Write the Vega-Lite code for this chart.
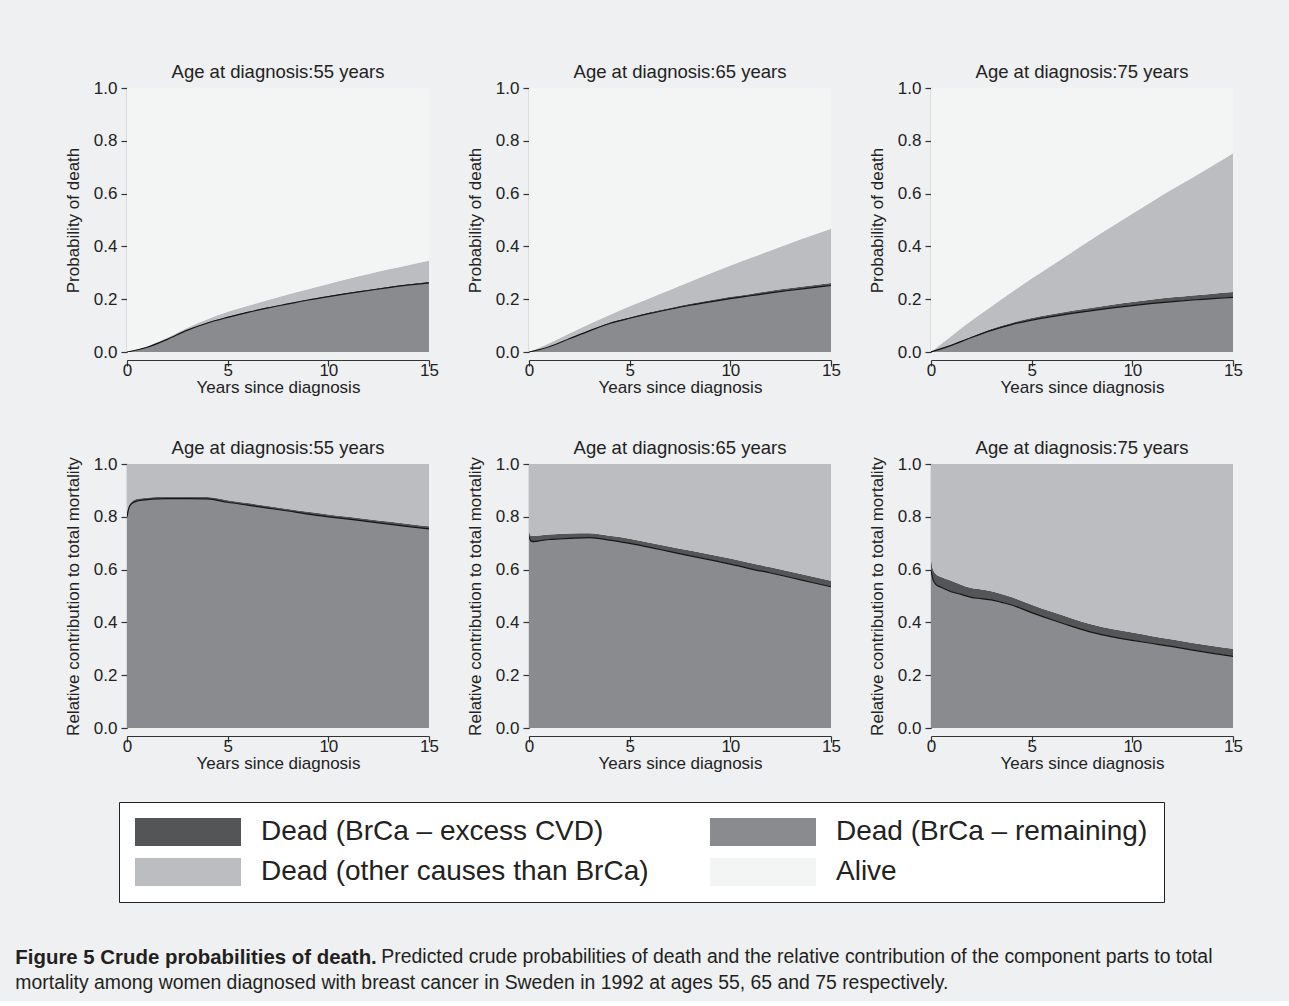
{
  "$schema": "https://vega.github.io/schema/vega-lite/v6.json",
  "background": "#eef0f1",
  "padding": {"left": 15, "top": 62, "right": 46, "bottom": 8},
  "datasets": {
    "curves": [
      {"m": "p", "age": "Age at diagnosis:55 years", "t": 0, "brca": 0, "cvd": 0, "other": 0, "survivors": 1},
      {"m": "p", "age": "Age at diagnosis:55 years", "t": 1, "brca": 0.018, "cvd": 0.001, "other": 0.002, "survivors": 0.979},
      {"m": "p", "age": "Age at diagnosis:55 years", "t": 2, "brca": 0.048, "cvd": 0.002, "other": 0.004, "survivors": 0.946},
      {"m": "p", "age": "Age at diagnosis:55 years", "t": 3, "brca": 0.083, "cvd": 0.002, "other": 0.007, "survivors": 0.908},
      {"m": "p", "age": "Age at diagnosis:55 years", "t": 4, "brca": 0.110, "cvd": 0.003, "other": 0.011, "survivors": 0.876},
      {"m": "p", "age": "Age at diagnosis:55 years", "t": 5, "brca": 0.131, "cvd": 0.003, "other": 0.018, "survivors": 0.848},
      {"m": "p", "age": "Age at diagnosis:55 years", "t": 6, "brca": 0.150, "cvd": 0.003, "other": 0.022, "survivors": 0.825},
      {"m": "p", "age": "Age at diagnosis:55 years", "t": 7, "brca": 0.167, "cvd": 0.003, "other": 0.027, "survivors": 0.803},
      {"m": "p", "age": "Age at diagnosis:55 years", "t": 8, "brca": 0.182, "cvd": 0.003, "other": 0.033, "survivors": 0.782},
      {"m": "p", "age": "Age at diagnosis:55 years", "t": 9, "brca": 0.197, "cvd": 0.003, "other": 0.038, "survivors": 0.762},
      {"m": "p", "age": "Age at diagnosis:55 years", "t": 10, "brca": 0.210, "cvd": 0.003, "other": 0.045, "survivors": 0.742},
      {"m": "p", "age": "Age at diagnosis:55 years", "t": 11, "brca": 0.222, "cvd": 0.003, "other": 0.052, "survivors": 0.723},
      {"m": "p", "age": "Age at diagnosis:55 years", "t": 12, "brca": 0.233, "cvd": 0.004, "other": 0.058, "survivors": 0.705},
      {"m": "p", "age": "Age at diagnosis:55 years", "t": 13, "brca": 0.244, "cvd": 0.004, "other": 0.065, "survivors": 0.687},
      {"m": "p", "age": "Age at diagnosis:55 years", "t": 14, "brca": 0.254, "cvd": 0.004, "other": 0.072, "survivors": 0.670},
      {"m": "p", "age": "Age at diagnosis:55 years", "t": 15, "brca": 0.262, "cvd": 0.004, "other": 0.080, "survivors": 0.654},

      {"m": "p", "age": "Age at diagnosis:65 years", "t": 0, "brca": 0, "cvd": 0, "other": 0, "survivors": 1},
      {"m": "p", "age": "Age at diagnosis:65 years", "t": 1, "brca": 0.020, "cvd": 0.001, "other": 0.012, "survivors": 0.967},
      {"m": "p", "age": "Age at diagnosis:65 years", "t": 2, "brca": 0.050, "cvd": 0.002, "other": 0.018, "survivors": 0.930},
      {"m": "p", "age": "Age at diagnosis:65 years", "t": 3, "brca": 0.080, "cvd": 0.003, "other": 0.023, "survivors": 0.894},
      {"m": "p", "age": "Age at diagnosis:65 years", "t": 4, "brca": 0.108, "cvd": 0.004, "other": 0.028, "survivors": 0.860},
      {"m": "p", "age": "Age at diagnosis:65 years", "t": 5, "brca": 0.128, "cvd": 0.004, "other": 0.041, "survivors": 0.827},
      {"m": "p", "age": "Age at diagnosis:65 years", "t": 6, "brca": 0.146, "cvd": 0.005, "other": 0.053, "survivors": 0.796},
      {"m": "p", "age": "Age at diagnosis:65 years", "t": 7, "brca": 0.162, "cvd": 0.005, "other": 0.068, "survivors": 0.765},
      {"m": "p", "age": "Age at diagnosis:65 years", "t": 8, "brca": 0.177, "cvd": 0.006, "other": 0.083, "survivors": 0.734},
      {"m": "p", "age": "Age at diagnosis:65 years", "t": 9, "brca": 0.190, "cvd": 0.006, "other": 0.101, "survivors": 0.703},
      {"m": "p", "age": "Age at diagnosis:65 years", "t": 10, "brca": 0.202, "cvd": 0.007, "other": 0.119, "survivors": 0.672},
      {"m": "p", "age": "Age at diagnosis:65 years", "t": 11, "brca": 0.213, "cvd": 0.007, "other": 0.136, "survivors": 0.644},
      {"m": "p", "age": "Age at diagnosis:65 years", "t": 12, "brca": 0.224, "cvd": 0.008, "other": 0.152, "survivors": 0.616},
      {"m": "p", "age": "Age at diagnosis:65 years", "t": 13, "brca": 0.234, "cvd": 0.008, "other": 0.171, "survivors": 0.587},
      {"m": "p", "age": "Age at diagnosis:65 years", "t": 14, "brca": 0.243, "cvd": 0.009, "other": 0.188, "survivors": 0.560},
      {"m": "p", "age": "Age at diagnosis:65 years", "t": 15, "brca": 0.252, "cvd": 0.009, "other": 0.206, "survivors": 0.533},

      {"m": "p", "age": "Age at diagnosis:75 years", "t": 0, "brca": 0, "cvd": 0, "other": 0, "survivors": 1},
      {"m": "p", "age": "Age at diagnosis:75 years", "t": 1, "brca": 0.025, "cvd": 0.002, "other": 0.033, "survivors": 0.940},
      {"m": "p", "age": "Age at diagnosis:75 years", "t": 2, "brca": 0.055, "cvd": 0.003, "other": 0.060, "survivors": 0.882},
      {"m": "p", "age": "Age at diagnosis:75 years", "t": 3, "brca": 0.082, "cvd": 0.005, "other": 0.085, "survivors": 0.828},
      {"m": "p", "age": "Age at diagnosis:75 years", "t": 4, "brca": 0.104, "cvd": 0.006, "other": 0.116, "survivors": 0.774},
      {"m": "p", "age": "Age at diagnosis:75 years", "t": 5, "brca": 0.121, "cvd": 0.008, "other": 0.149, "survivors": 0.722},
      {"m": "p", "age": "Age at diagnosis:75 years", "t": 6, "brca": 0.134, "cvd": 0.009, "other": 0.185, "survivors": 0.672},
      {"m": "p", "age": "Age at diagnosis:75 years", "t": 7, "brca": 0.146, "cvd": 0.010, "other": 0.222, "survivors": 0.622},
      {"m": "p", "age": "Age at diagnosis:75 years", "t": 8, "brca": 0.157, "cvd": 0.011, "other": 0.260, "survivors": 0.572},
      {"m": "p", "age": "Age at diagnosis:75 years", "t": 9, "brca": 0.167, "cvd": 0.012, "other": 0.297, "survivors": 0.524},
      {"m": "p", "age": "Age at diagnosis:75 years", "t": 10, "brca": 0.176, "cvd": 0.013, "other": 0.335, "survivors": 0.476},
      {"m": "p", "age": "Age at diagnosis:75 years", "t": 11, "brca": 0.184, "cvd": 0.015, "other": 0.372, "survivors": 0.429},
      {"m": "p", "age": "Age at diagnosis:75 years", "t": 12, "brca": 0.191, "cvd": 0.016, "other": 0.410, "survivors": 0.383},
      {"m": "p", "age": "Age at diagnosis:75 years", "t": 13, "brca": 0.197, "cvd": 0.017, "other": 0.447, "survivors": 0.339},
      {"m": "p", "age": "Age at diagnosis:75 years", "t": 14, "brca": 0.202, "cvd": 0.019, "other": 0.485, "survivors": 0.294},
      {"m": "p", "age": "Age at diagnosis:75 years", "t": 15, "brca": 0.207, "cvd": 0.020, "other": 0.526, "survivors": 0.247},

      {"m": "r", "age": "Age at diagnosis:55 years", "t": 0, "brca": 0.800, "cvd": 0.006, "other": 0.194, "survivors": 0},
      {"m": "r", "age": "Age at diagnosis:55 years", "t": 0.1, "brca": 0.835, "cvd": 0.007, "other": 0.158, "survivors": 0},
      {"m": "r", "age": "Age at diagnosis:55 years", "t": 0.25, "brca": 0.851, "cvd": 0.007, "other": 0.142, "survivors": 0},
      {"m": "r", "age": "Age at diagnosis:55 years", "t": 0.5, "brca": 0.860, "cvd": 0.007, "other": 0.133, "survivors": 0},
      {"m": "r", "age": "Age at diagnosis:55 years", "t": 1, "brca": 0.865, "cvd": 0.007, "other": 0.128, "survivors": 0},
      {"m": "r", "age": "Age at diagnosis:55 years", "t": 1.5, "brca": 0.868, "cvd": 0.007, "other": 0.125, "survivors": 0},
      {"m": "r", "age": "Age at diagnosis:55 years", "t": 2, "brca": 0.869, "cvd": 0.007, "other": 0.124, "survivors": 0},
      {"m": "r", "age": "Age at diagnosis:55 years", "t": 3, "brca": 0.869, "cvd": 0.007, "other": 0.124, "survivors": 0},
      {"m": "r", "age": "Age at diagnosis:55 years", "t": 4, "brca": 0.868, "cvd": 0.007, "other": 0.125, "survivors": 0},
      {"m": "r", "age": "Age at diagnosis:55 years", "t": 5, "brca": 0.855, "cvd": 0.008, "other": 0.137, "survivors": 0},
      {"m": "r", "age": "Age at diagnosis:55 years", "t": 6, "brca": 0.844, "cvd": 0.008, "other": 0.148, "survivors": 0},
      {"m": "r", "age": "Age at diagnosis:55 years", "t": 7, "brca": 0.833, "cvd": 0.008, "other": 0.159, "survivors": 0},
      {"m": "r", "age": "Age at diagnosis:55 years", "t": 8, "brca": 0.822, "cvd": 0.008, "other": 0.170, "survivors": 0},
      {"m": "r", "age": "Age at diagnosis:55 years", "t": 9, "brca": 0.810, "cvd": 0.009, "other": 0.181, "survivors": 0},
      {"m": "r", "age": "Age at diagnosis:55 years", "t": 10, "brca": 0.800, "cvd": 0.009, "other": 0.191, "survivors": 0},
      {"m": "r", "age": "Age at diagnosis:55 years", "t": 11, "brca": 0.791, "cvd": 0.009, "other": 0.200, "survivors": 0},
      {"m": "r", "age": "Age at diagnosis:55 years", "t": 12, "brca": 0.782, "cvd": 0.009, "other": 0.209, "survivors": 0},
      {"m": "r", "age": "Age at diagnosis:55 years", "t": 13, "brca": 0.772, "cvd": 0.010, "other": 0.218, "survivors": 0},
      {"m": "r", "age": "Age at diagnosis:55 years", "t": 14, "brca": 0.763, "cvd": 0.010, "other": 0.227, "survivors": 0},
      {"m": "r", "age": "Age at diagnosis:55 years", "t": 15, "brca": 0.754, "cvd": 0.010, "other": 0.236, "survivors": 0},

      {"m": "r", "age": "Age at diagnosis:65 years", "t": 0, "brca": 0.725, "cvd": 0.015, "other": 0.260, "survivors": 0},
      {"m": "r", "age": "Age at diagnosis:65 years", "t": 0.1, "brca": 0.708, "cvd": 0.020, "other": 0.272, "survivors": 0},
      {"m": "r", "age": "Age at diagnosis:65 years", "t": 0.25, "brca": 0.706, "cvd": 0.021, "other": 0.273, "survivors": 0},
      {"m": "r", "age": "Age at diagnosis:65 years", "t": 0.5, "brca": 0.709, "cvd": 0.020, "other": 0.271, "survivors": 0},
      {"m": "r", "age": "Age at diagnosis:65 years", "t": 1, "brca": 0.714, "cvd": 0.019, "other": 0.267, "survivors": 0},
      {"m": "r", "age": "Age at diagnosis:65 years", "t": 1.5, "brca": 0.716, "cvd": 0.019, "other": 0.265, "survivors": 0},
      {"m": "r", "age": "Age at diagnosis:65 years", "t": 2, "brca": 0.718, "cvd": 0.019, "other": 0.263, "survivors": 0},
      {"m": "r", "age": "Age at diagnosis:65 years", "t": 3, "brca": 0.721, "cvd": 0.017, "other": 0.262, "survivors": 0},
      {"m": "r", "age": "Age at diagnosis:65 years", "t": 4, "brca": 0.712, "cvd": 0.016, "other": 0.272, "survivors": 0},
      {"m": "r", "age": "Age at diagnosis:65 years", "t": 5, "brca": 0.699, "cvd": 0.018, "other": 0.283, "survivors": 0},
      {"m": "r", "age": "Age at diagnosis:65 years", "t": 6, "brca": 0.684, "cvd": 0.018, "other": 0.298, "survivors": 0},
      {"m": "r", "age": "Age at diagnosis:65 years", "t": 7, "brca": 0.668, "cvd": 0.019, "other": 0.313, "survivors": 0},
      {"m": "r", "age": "Age at diagnosis:65 years", "t": 8, "brca": 0.652, "cvd": 0.020, "other": 0.328, "survivors": 0},
      {"m": "r", "age": "Age at diagnosis:65 years", "t": 9, "brca": 0.637, "cvd": 0.020, "other": 0.343, "survivors": 0},
      {"m": "r", "age": "Age at diagnosis:65 years", "t": 10, "brca": 0.621, "cvd": 0.021, "other": 0.358, "survivors": 0},
      {"m": "r", "age": "Age at diagnosis:65 years", "t": 11, "brca": 0.603, "cvd": 0.022, "other": 0.375, "survivors": 0},
      {"m": "r", "age": "Age at diagnosis:65 years", "t": 12, "brca": 0.587, "cvd": 0.022, "other": 0.391, "survivors": 0},
      {"m": "r", "age": "Age at diagnosis:65 years", "t": 13, "brca": 0.570, "cvd": 0.022, "other": 0.408, "survivors": 0},
      {"m": "r", "age": "Age at diagnosis:65 years", "t": 14, "brca": 0.552, "cvd": 0.023, "other": 0.425, "survivors": 0},
      {"m": "r", "age": "Age at diagnosis:65 years", "t": 15, "brca": 0.535, "cvd": 0.023, "other": 0.442, "survivors": 0},

      {"m": "r", "age": "Age at diagnosis:75 years", "t": 0, "brca": 0.598, "cvd": 0.032, "other": 0.370, "survivors": 0},
      {"m": "r", "age": "Age at diagnosis:75 years", "t": 0.1, "brca": 0.562, "cvd": 0.038, "other": 0.400, "survivors": 0},
      {"m": "r", "age": "Age at diagnosis:75 years", "t": 0.25, "brca": 0.543, "cvd": 0.039, "other": 0.418, "survivors": 0},
      {"m": "r", "age": "Age at diagnosis:75 years", "t": 0.5, "brca": 0.533, "cvd": 0.039, "other": 0.428, "survivors": 0},
      {"m": "r", "age": "Age at diagnosis:75 years", "t": 1, "brca": 0.516, "cvd": 0.042, "other": 0.442, "survivors": 0},
      {"m": "r", "age": "Age at diagnosis:75 years", "t": 1.5, "brca": 0.506, "cvd": 0.037, "other": 0.457, "survivors": 0},
      {"m": "r", "age": "Age at diagnosis:75 years", "t": 2, "brca": 0.495, "cvd": 0.035, "other": 0.470, "survivors": 0},
      {"m": "r", "age": "Age at diagnosis:75 years", "t": 2.5, "brca": 0.490, "cvd": 0.035, "other": 0.475, "survivors": 0},
      {"m": "r", "age": "Age at diagnosis:75 years", "t": 3, "brca": 0.485, "cvd": 0.033, "other": 0.482, "survivors": 0},
      {"m": "r", "age": "Age at diagnosis:75 years", "t": 3.5, "brca": 0.476, "cvd": 0.032, "other": 0.492, "survivors": 0},
      {"m": "r", "age": "Age at diagnosis:75 years", "t": 4, "brca": 0.466, "cvd": 0.030, "other": 0.504, "survivors": 0},
      {"m": "r", "age": "Age at diagnosis:75 years", "t": 5, "brca": 0.437, "cvd": 0.030, "other": 0.533, "survivors": 0},
      {"m": "r", "age": "Age at diagnosis:75 years", "t": 6, "brca": 0.410, "cvd": 0.030, "other": 0.560, "survivors": 0},
      {"m": "r", "age": "Age at diagnosis:75 years", "t": 7, "brca": 0.385, "cvd": 0.030, "other": 0.585, "survivors": 0},
      {"m": "r", "age": "Age at diagnosis:75 years", "t": 8, "brca": 0.362, "cvd": 0.030, "other": 0.608, "survivors": 0},
      {"m": "r", "age": "Age at diagnosis:75 years", "t": 9, "brca": 0.345, "cvd": 0.030, "other": 0.625, "survivors": 0},
      {"m": "r", "age": "Age at diagnosis:75 years", "t": 10, "brca": 0.332, "cvd": 0.030, "other": 0.638, "survivors": 0},
      {"m": "r", "age": "Age at diagnosis:75 years", "t": 11, "brca": 0.320, "cvd": 0.028, "other": 0.652, "survivors": 0},
      {"m": "r", "age": "Age at diagnosis:75 years", "t": 12, "brca": 0.308, "cvd": 0.027, "other": 0.665, "survivors": 0},
      {"m": "r", "age": "Age at diagnosis:75 years", "t": 13, "brca": 0.295, "cvd": 0.027, "other": 0.678, "survivors": 0},
      {"m": "r", "age": "Age at diagnosis:75 years", "t": 14, "brca": 0.283, "cvd": 0.028, "other": 0.689, "survivors": 0},
      {"m": "r", "age": "Age at diagnosis:75 years", "t": 15, "brca": 0.271, "cvd": 0.029, "other": 0.700, "survivors": 0}
    ]
  },
  "title": {
    "text": "mortality among women diagnosed with breast cancer in Sweden in 1992 at ages 55, 65 and 75 respectively.",
    "orient": "bottom", "anchor": "start", "frame": "bounds", "offset": 6,
    "fontSize": 19.4, "fontWeight": "normal", "font": "Liberation Sans", "color": "#231f20"
  },
  "vconcat": [
    {
      "title": {
        "text": "Predicted crude probabilities of death and the relative contribution of the component parts to total",
        "orient": "bottom", "anchor": "start", "frame": "bounds", "offset": -20, "dx": 366,
        "fontSize": 19.4, "fontWeight": "normal", "font": "Liberation Sans", "color": "#231f20"
      },
      "spacing": 43,
      "vconcat": [
        {
          "data": {"name": "curves"},
          "transform": [{"filter": {"field": "m", "equal": "p"}}],
          "facet": {"column": {"field": "age", "type": "nominal", "title": null}},
          "spacing": 37,
          "resolve": {"axis": {"y": "independent"}},
          "spec": {
            "width": 302,
            "height": 264,
            "layer": [
              {
                "transform": [{"fold": ["brca", "cvd", "other", "survivors"], "as": ["k", "v"]}],
                "mark": {"type": "area", "interpolate": "monotone", "clip": true, "opacity": 1},
                "encoding": {
                  "x": {"field": "t", "type": "quantitative", "title": "Years since diagnosis",
                        "scale": {"domain": [0, 15], "nice": false, "zero": false},
                        "axis": {"values": [0, 5, 10, 15], "format": "d"}},
                  "y": {"field": "v", "type": "quantitative", "stack": "zero", "title": "Probability of death",
                        "scale": {"domain": [0, 1], "nice": false},
                        "axis": {"values": [0, 0.2, 0.4, 0.6, 0.8, 1], "format": ".1f"}},
                  "color": {"field": "k", "type": "nominal",
                            "scale": {"domain": ["cvd", "other", "brca", "survivors"],
                                      "range": ["#545557", "#bcbdc0", "#8a8b8e", "#f3f4f4"]},
                            "legend": {"orient": "none", "legendX": -8, "legendY": 714, "columns": 2, "title": null,
                                       "labelExpr": "{'brca': 'Dead (BrCa – remaining)', 'cvd': 'Dead (BrCa – excess CVD)', 'other': 'Dead (other causes than BrCa)', 'survivors': 'Alive'}[datum.label]",
                                       "symbolType": "M-3.786,-1H3.786V1H-3.786Z", "symbolSize": 784, "symbolStrokeWidth": 0,
                                       "symbolOffset": 39, "labelOffset": 59,
                                       "labelFontSize": 28, "labelLimit": 700, "labelColor": "#222",
                                       "labelFont": "Liberation Sans", "columnPadding": 60, "rowPadding": 12, "padding": 16,
                                       "fillColor": "white", "strokeColor": "#222"}},
                  "order": {"field": "k", "type": "ordinal"}
                }
              },
              {
                "mark": {"type": "line", "interpolate": "monotone", "color": "#151515", "strokeWidth": 1.2, "clip": true},
                "encoding": {
                  "x": {"field": "t", "type": "quantitative", "title": "Years since diagnosis"},
                  "y": {"field": "brca", "type": "quantitative", "title": "Probability of death"}
                }
              }
            ]
          }
        },
        {
          "data": {"name": "curves"},
          "transform": [{"filter": {"field": "m", "equal": "r"}}],
          "title": {
            "text": "Figure 5 Crude probabilities of death.",
            "orient": "bottom", "anchor": "start", "frame": "bounds", "offset": 177, "dx": -49,
            "fontSize": 20.4, "fontWeight": "bold", "font": "Liberation Sans", "color": "#231f20"
          },
          "facet": {"column": {"field": "age", "type": "nominal", "title": null}},
          "spacing": 37,
          "resolve": {"axis": {"y": "independent"}},
          "spec": {
            "width": 302,
            "height": 264,
            "layer": [
              {
                "transform": [{"fold": ["brca", "cvd", "other", "survivors"], "as": ["k", "v"]}],
                "mark": {"type": "area", "interpolate": "monotone", "clip": true, "opacity": 1},
                "encoding": {
                  "x": {"field": "t", "type": "quantitative", "title": "Years since diagnosis",
                        "scale": {"domain": [0, 15], "nice": false, "zero": false},
                        "axis": {"values": [0, 5, 10, 15], "format": "d"}},
                  "y": {"field": "v", "type": "quantitative", "stack": "zero", "title": "Relative contribution to total mortality",
                        "scale": {"domain": [0, 1], "nice": false},
                        "axis": {"values": [0, 0.2, 0.4, 0.6, 0.8, 1], "format": ".1f"}},
                  "color": {"field": "k", "type": "nominal",
                            "scale": {"domain": ["cvd", "other", "brca", "survivors"],
                                      "range": ["#545557", "#bcbdc0", "#8a8b8e", "#f3f4f4"]},
                            "legend": {"orient": "none", "legendX": -8, "legendY": 714, "columns": 2, "title": null,
                                       "labelExpr": "{'brca': 'Dead (BrCa – remaining)', 'cvd': 'Dead (BrCa – excess CVD)', 'other': 'Dead (other causes than BrCa)', 'survivors': 'Alive'}[datum.label]",
                                       "symbolType": "M-3.786,-1H3.786V1H-3.786Z", "symbolSize": 784, "symbolStrokeWidth": 0,
                                       "symbolOffset": 39, "labelOffset": 59,
                                       "labelFontSize": 28, "labelLimit": 700, "labelColor": "#222",
                                       "labelFont": "Liberation Sans", "columnPadding": 60, "rowPadding": 12, "padding": 16,
                                       "fillColor": "white", "strokeColor": "#222"}},
                  "order": {"field": "k", "type": "ordinal"}
                }
              },
              {
                "mark": {"type": "line", "interpolate": "monotone", "color": "#151515", "strokeWidth": 1.2, "clip": true},
                "encoding": {
                  "x": {"field": "t", "type": "quantitative", "title": "Years since diagnosis"},
                  "y": {"field": "brca", "type": "quantitative", "title": "Relative contribution to total mortality"}
                }
              }
            ]
          }
        }
      ]
    }
  ],
  "config": {
    "font": "Liberation Sans",
    "view": {"stroke": null},
    "axis": {
      "grid": false, "domainColor": "#333", "tickColor": "#333", "tickSize": 6, "domainWidth": 1.2, "tickWidth": 1.2,
      "labelFontSize": 17, "titleFontSize": 17, "labelColor": "#222", "titleColor": "#222",
      "titleFontWeight": "normal", "labelFont": "Liberation Sans", "titleFont": "Liberation Sans"
    },
    "axisX": {"labelPadding": -4, "titlePadding": 1, "labelFlush": false},
    "axisY": {"labelPadding": 4, "titlePadding": 11},
    "header": {"labelFontSize": 18.5, "labelColor": "#222", "labelFont": "Liberation Sans", "labelPadding": -2}
  }
}
